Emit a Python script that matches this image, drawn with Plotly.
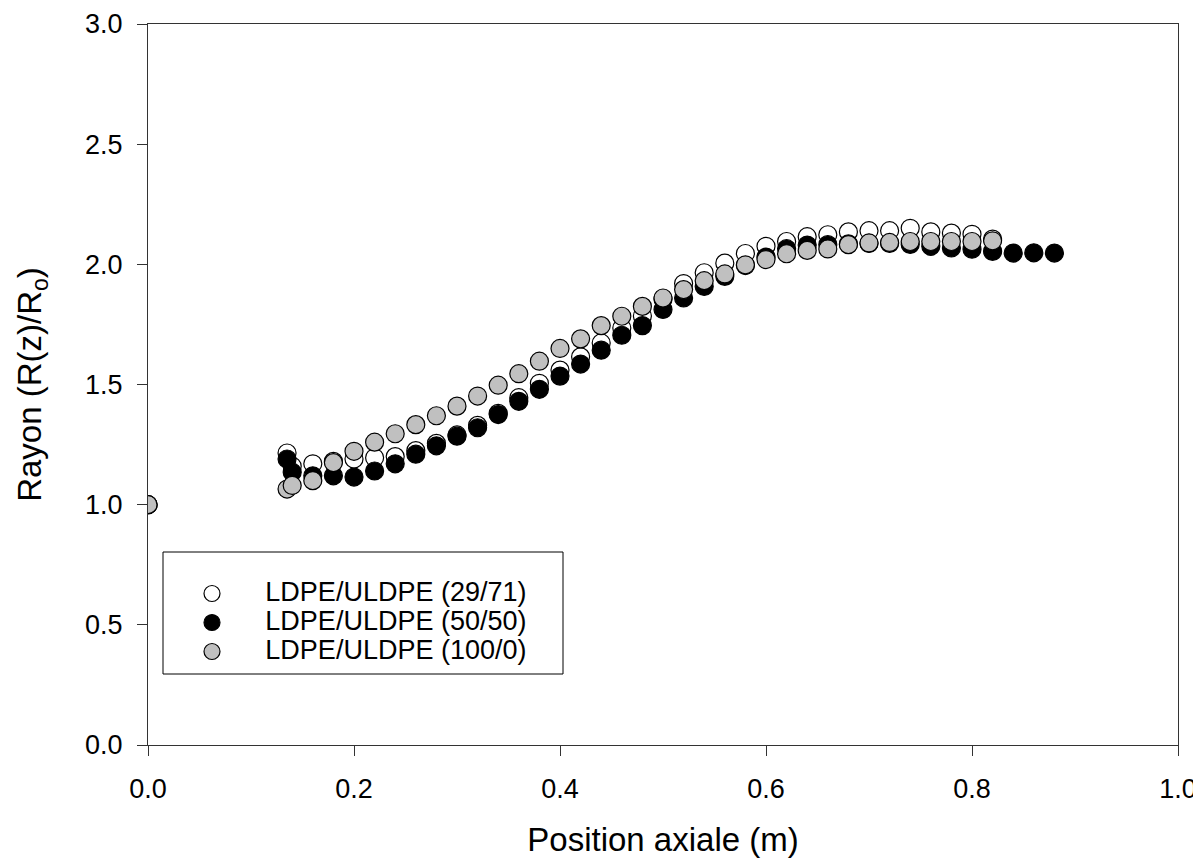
import plotly.graph_objects as go

# x positions (m)
x_29_71 = [0.0, 0.135, 0.14, 0.16, 0.18, 0.20, 0.22, 0.24, 0.26, 0.28, 0.30, 0.32, 0.34, 0.36, 0.38,
           0.40, 0.42, 0.44, 0.46, 0.48, 0.50, 0.52, 0.54, 0.56, 0.58, 0.60, 0.62, 0.64, 0.66,
           0.68, 0.70, 0.72, 0.74, 0.76, 0.78, 0.80, 0.82]
y_29_71 = [1.0, 1.215, 1.16, 1.17, 1.18, 1.19, 1.195, 1.20, 1.225, 1.255, 1.29, 1.33, 1.38, 1.445, 1.505,
           1.56, 1.615, 1.673, 1.735, 1.785, 1.855, 1.92, 1.965, 2.005, 2.045, 2.075, 2.095, 2.115, 2.123,
           2.135, 2.14, 2.14, 2.15, 2.135, 2.13, 2.125, 2.105]

x_50_50 = [0.0, 0.135, 0.14, 0.16, 0.18, 0.20, 0.22, 0.24, 0.26, 0.28, 0.30, 0.32, 0.34, 0.36, 0.38,
           0.40, 0.42, 0.44, 0.46, 0.48, 0.50, 0.52, 0.54, 0.56, 0.58, 0.60, 0.62, 0.64, 0.66,
           0.68, 0.70, 0.72, 0.74, 0.76, 0.78, 0.80, 0.82, 0.84, 0.86, 0.88]
y_50_50 = [1.0, 1.19, 1.135, 1.12, 1.12, 1.115, 1.14, 1.17, 1.21, 1.245, 1.285, 1.32, 1.375, 1.43, 1.48,
           1.535, 1.585, 1.643, 1.705, 1.745, 1.812, 1.86, 1.908, 1.95, 1.995, 2.03, 2.065, 2.08, 2.082,
           2.085, 2.087, 2.087, 2.083, 2.075, 2.068, 2.063, 2.054, 2.047, 2.048, 2.047]

x_100_0 = [0.0, 0.135, 0.14, 0.16, 0.18, 0.20, 0.22, 0.24, 0.26, 0.28, 0.30, 0.32, 0.34, 0.36, 0.38,
           0.40, 0.42, 0.44, 0.46, 0.48, 0.50, 0.52, 0.54, 0.56, 0.58, 0.60, 0.62, 0.64, 0.66,
           0.68, 0.70, 0.72, 0.74, 0.76, 0.78, 0.80, 0.82]
y_100_0 = [1.0, 1.065, 1.08, 1.10, 1.175, 1.222, 1.26, 1.295, 1.333, 1.37, 1.41, 1.452, 1.497, 1.545, 1.597,
           1.65, 1.69, 1.745, 1.784, 1.825, 1.86, 1.895, 1.932, 1.96, 1.998, 2.02, 2.044, 2.058, 2.064,
           2.082, 2.089, 2.091, 2.095, 2.095, 2.095, 2.095, 2.098]

names = ["LDPE/ULDPE (29/71)", "LDPE/ULDPE (50/50)", "LDPE/ULDPE (100/0)"]
fills = ["#ffffff", "#000000", "#c0c0c0"]

FONT = "Arial, 'Liberation Sans', sans-serif"
PAD = "\u00a0" * 6

fig = go.Figure()
for xs, ys, nm, fc in zip([x_29_71, x_50_50, x_100_0], [y_29_71, y_50_50, y_100_0], names, fills):
    fig.add_trace(go.Scatter(
        x=xs, y=ys, mode="markers", name=PAD + '<span style="font-size:27px">' + nm + '</span>',
        marker=dict(size=18, color=fc, line=dict(color="#000000", width=1.2)),
    ))

fig.add_shape(type="rect", xref="paper", yref="paper",
              x0=(163 - 148) / 1030, x1=(563 - 148) / 1030,
              y0=(745 - 674) / 721, y1=(745 - 552) / 721,
              line=dict(color="#000000", width=1), fillcolor="rgba(0,0,0,0)", layer="above")

fig.update_layout(
    width=1193, height=850,
    margin=dict(l=140, r=23, t=16, b=113, autoexpand=False),
    paper_bgcolor="white", plot_bgcolor="white",
    font=dict(family=FONT, color="#000000", size=27),
    showlegend=True,
    legend=dict(x=(192 - 148) / 1030, y=(745 - 574) / 721, xanchor="left", yanchor="top",
                bgcolor="rgba(0,0,0,0)", borderwidth=0, itemwidth=30,
                font=dict(size=20, family=FONT), tracegroupgap=0),
    xaxis=dict(range=[0, 1.0], tickvals=[0, 0.2, 0.4, 0.6, 0.8, 1.0],
               ticktext=["0.0", "0.2", "0.4", "0.6", "0.8", "1.0"],
               showline=True, linecolor="#333333", linewidth=1, mirror=True,
               ticks="outside", ticklen=10, tickcolor="#333333", tickwidth=1,
               showgrid=False, zeroline=False, automargin=False,
               tickfont=dict(size=27, family=FONT), ticklabelstandoff=10,
               ticklabeloverflow="allow",
               title=dict(text="Position axiale (m)", font=dict(size=33, family=FONT), standoff=32)),
    yaxis=dict(range=[0, 3.0], tickvals=[0, 0.5, 1.0, 1.5, 2.0, 2.5, 3.0],
               ticktext=["0.0", "0.5", "1.0", "1.5", "2.0", "2.5", "3.0"],
               showline=True, linecolor="#333333", linewidth=1, mirror=True,
               ticks="outside", ticklen=10, tickcolor="#333333", tickwidth=1,
               showgrid=False, zeroline=False, automargin=False,
               tickfont=dict(size=27, family=FONT), ticklabelstandoff=9,
               title=dict(text="Rayon (R(z)/R<sub>o</sub>)", font=dict(size=33, family=FONT), standoff=33)),
)

fig.write_html("out.html")
